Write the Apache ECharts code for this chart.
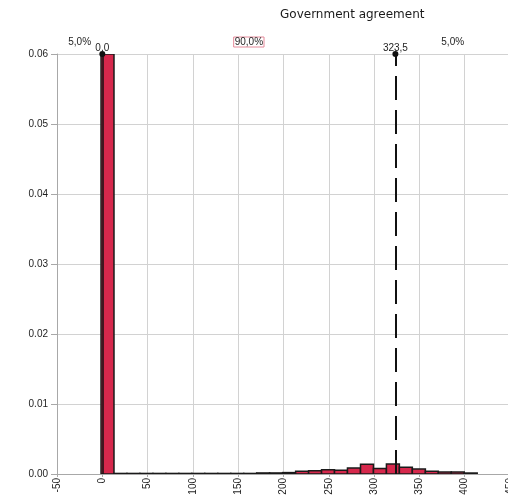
<!DOCTYPE html>
<html>
<head>
<meta charset="utf-8">
<script src="https://cdn.jsdelivr.net/npm/echarts@6/dist/echarts.min.js"></script>
<style>
  html, body { margin: 0; padding: 0; background: #fff; }
  #chart { width: 508px; height: 499px; }
</style>
</head>
<body>
<div id="chart"></div>
<script>
// Histogram bins: left edges, right edges and density per bin
const binStart = [-1.4, 12.9, 27.2, 41.5, 55.9, 70.2, 84.5, 98.8, 113.1, 127.5,
                  141.8, 156.1, 170.4, 184.7, 199.0, 213.4, 227.7, 242.0, 256.3, 270.6,
                  285.0, 299.3, 313.6, 327.9, 342.2, 356.6, 370.9, 385.2, 399.5];
const binEnd   = [12.9, 27.2, 41.5, 55.9, 70.2, 84.5, 98.8, 113.1, 127.5, 141.8,
                  156.1, 170.4, 184.7, 199.0, 213.4, 227.7, 242.0, 256.3, 270.6, 285.0,
                  299.3, 313.6, 327.9, 342.2, 356.6, 370.9, 385.2, 399.5, 413.8];
const density  = [0.0600, 0.00008, 0.00008, 0.00008, 0.00008, 0.00008, 0.00008, 0.00008, 0.00008, 0.00008,
                  0.00008, 0.00008, 0.00015, 0.00015, 0.00020, 0.00038, 0.00047, 0.00062, 0.00052, 0.00085,
                  0.00138, 0.00080, 0.00143, 0.00095, 0.00070, 0.00038, 0.00028, 0.00028, 0.00014];

// Delimiter markers (5% / 95%) and the probabilities of the three regions
const lowerMark = 0.0;
const upperMark = 323.5;
const regionLabels = ['5,0%', '90,0%', '5,0%'];

const xMin = -50, xMax = 450, xStep = 50;
const yMin = 0, yMax = 0.06, yStep = 0.01;

const titleText = 'Government agreement';

const fmtComma = v => v.toFixed(1).replace('.', ',');

const bins = binStart.map((s, i) => [s, binEnd[i], density[i]]);

const regionPoints = [
  { value: [(xMin + lowerMark) / 2, yMax], name: regionLabels[0] },
  { value: [(lowerMark + upperMark) / 2, yMax], name: regionLabels[1], boxed: true },
  { value: [(upperMark + xMax) / 2, yMax], name: regionLabels[2] }
];

const markPoints = [
  { value: [lowerMark, yMax], name: fmtComma(lowerMark) },
  { value: [upperMark, yMax], name: fmtComma(upperMark) }
];

const chart = echarts.init(document.getElementById('chart'), null, { renderer: 'canvas' });

const textFont = 'Liberation Sans';
const textColor = '#1e1e1e';

chart.setOption({
  animation: false,
  backgroundColor: '#ffffff',
  title: {
    text: titleText,
    left: 275,
    top: 4,
    textStyle: { fontFamily: 'DejaVu Sans', fontSize: 12, fontWeight: 'normal', color: '#1a1a1a' }
  },
  grid: {
    left: 57, right: -2, top: 54, bottom: 25,
    containLabel: false, outerBoundsMode: 'none'
  },
  xAxis: {
    type: 'value',
    min: xMin, max: xMax, interval: xStep,
    axisLine: { show: true, onZero: false, lineStyle: { color: '#a8a8a8', width: 1 } },
    axisTick: { show: true, length: 3, lineStyle: { color: '#a8a8a8' } },
    axisLabel: {
      rotate: 90, margin: 4,
      fontFamily: textFont, fontSize: 10, color: textColor
    },
    splitLine: { show: true, lineStyle: { color: '#d2d2d2', width: 1 } }
  },
  yAxis: {
    type: 'value',
    min: yMin, max: yMax, interval: yStep,
    axisLine: { show: true, onZero: false, lineStyle: { color: '#a8a8a8', width: 1 } },
    axisTick: { show: true, length: 6, lineStyle: { color: '#a8a8a8' } },
    axisLabel: {
      margin: 9,
      fontFamily: textFont, fontSize: 10, color: textColor,
      formatter: v => v.toFixed(2)
    },
    splitLine: { show: true, lineStyle: { color: '#d2d2d2', width: 1 } }
  },
  series: [
    {
      type: 'custom',
      name: 'histogram',
      data: bins,
      encode: { x: [0, 1], y: 2 },
      clip: true,
      renderItem: function (params, api) {
        const x0 = api.value(0), x1 = api.value(1), h = api.value(2);
        const pBase = api.coord([x0, 0]);
        const pTop = api.coord([x1, h]);
        return {
          type: 'rect',
          shape: {
            x: pBase[0], y: pTop[1],
            width: pTop[0] - pBase[0], height: pBase[1] - pTop[1]
          },
          style: { fill: '#d6284c', stroke: '#1a1a1a', lineWidth: 1.5 }
        };
      },
      z: 2
    },
    {
      type: 'line',
      name: 'markers',
      data: [],
      markLine: {
        silent: true,
        symbol: ['none', 'circle'],
        symbolSize: 6,
        label: { show: false },
        data: [
          [
            { coord: [lowerMark, yMin], lineStyle: { color: '#111', width: 1.5, type: 'solid' } },
            { coord: [lowerMark, yMax] }
          ],
          [
            { coord: [upperMark, yMin], lineStyle: { color: '#111', width: 2, type: [24, 10] } },
            { coord: [upperMark, yMax] }
          ]
        ],
        itemStyle: { color: '#111' }
      },
      z: 5
    },
    {
      type: 'scatter',
      name: 'markerValues',
      symbolSize: 0,
      silent: true,
      itemStyle: { opacity: 1 },
      data: markPoints,
      label: {
        show: true, position: 'top', distance: 0, lineHeight: 12,
        fontFamily: textFont, fontSize: 10, color: textColor,
        formatter: p => p.name
      },
      z: 6
    },
    {
      type: 'scatter',
      name: 'regions',
      symbolSize: 0,
      silent: true,
      itemStyle: { opacity: 1 },
      data: regionPoints.map(p => ({
        value: p.value,
        name: p.name,
        label: p.boxed
          ? { borderColor: '#e58a9a', borderWidth: 1, padding: [0, 1], lineHeight: 10, distance: 7 }
          : { lineHeight: 12, distance: 5.5 }
      })),
      label: {
        show: true, position: 'top',
        fontFamily: textFont, fontSize: 10, color: textColor,
        formatter: p => p.name
      },
      z: 6
    }
  ]
});
</script>
</body>
</html>
